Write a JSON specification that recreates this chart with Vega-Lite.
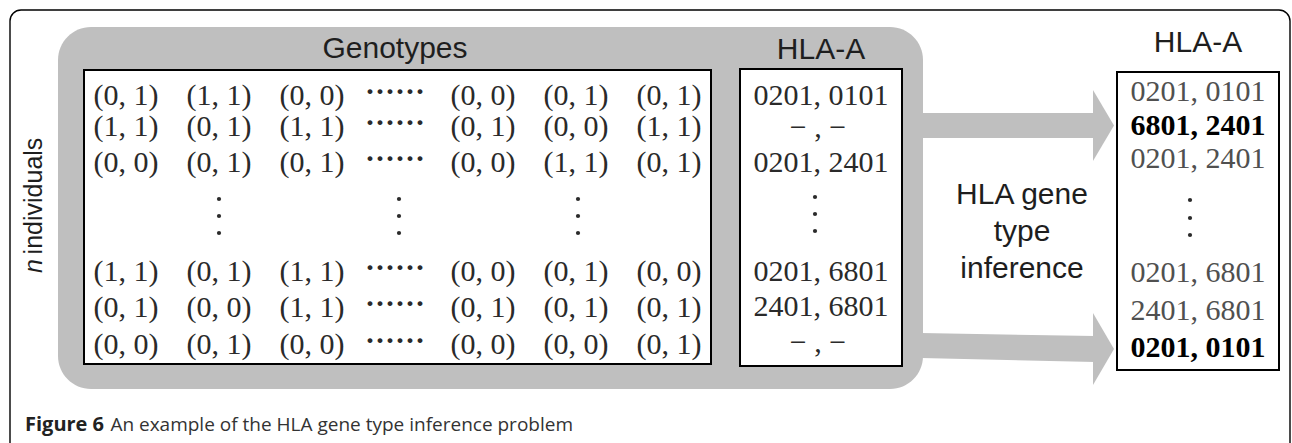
{
  "$schema": "https://vega.github.io/schema/vega-lite/v6.json",
  "width": 1292,
  "height": 443,
  "autosize": {"type": "none"},
  "padding": 0,
  "background": "white",
  "config": {"view": {"stroke": null}},
  "encoding": {
    "x": {"field": "x", "type": "quantitative", "scale": {"domain": [0, 1292], "nice": false, "zero": false}, "axis": null},
    "y": {"field": "y", "type": "quantitative", "scale": {"domain": [0, 443], "nice": false, "zero": false, "reverse": true}, "axis": null}
  },
  "layer": [
    {
      "data": {"values": [{"x": 10, "x2": 1290, "y": 10, "y2": 520}]},
      "mark": {"type": "rect", "filled": false, "stroke": "#000000", "strokeWidth": 1.4, "cornerRadius": 11, "clip": true},
      "encoding": {"x2": {"field": "x2"}, "y2": {"field": "y2"}}
    },
    {
      "data": {"values": [{"x": 58, "x2": 923, "y": 27, "y2": 389}]},
      "mark": {"type": "rect", "fill": "#bfbfbf", "cornerRadius": 33},
      "encoding": {"x2": {"field": "x2"}, "y2": {"field": "y2"}}
    },
    {
      "data": {"values": [
        {"part": "upper shaft", "x": 921, "y": 113, "y2": 138},
        {"part": "upper shaft", "x": 1095, "y": 113, "y2": 138},
        {"part": "upper head", "x": 1093, "y": 90, "y2": 161},
        {"part": "upper head", "x": 1114, "y": 125.5, "y2": 125.5},
        {"part": "lower shaft", "x": 921, "y": 333, "y2": 358},
        {"part": "lower shaft", "x": 1095, "y": 336, "y2": 362},
        {"part": "lower head", "x": 1093, "y": 313, "y2": 385},
        {"part": "lower head", "x": 1114, "y": 349, "y2": 349}
      ]},
      "mark": {"type": "area", "fill": "#bfbfbf", "interpolate": "linear"},
      "encoding": {"y": {"field": "y", "type": "quantitative", "stack": null}, "y2": {"field": "y2"}, "detail": {"field": "part"}}
    },
    {
      "data": {"values": [
        {"box": "Genotypes", "x": 84, "x2": 711, "y": 70, "y2": 364},
        {"box": "HLA-A input", "x": 740, "x2": 902, "y": 69, "y2": 366},
        {"box": "HLA-A output", "x": 1117, "x2": 1279, "y": 72, "y2": 370}
      ]},
      "mark": {"type": "rect", "fill": "white", "stroke": "#000000", "strokeWidth": 2},
      "encoding": {"x2": {"field": "x2"}, "y2": {"field": "y2"}}
    },
    {
      "data": {"values": [
        {"x": 126, "y": 96, "label": "(0, 1)"}, {"x": 219, "y": 96, "label": "(1, 1)"}, {"x": 312, "y": 96, "label": "(0, 0)"}, {"x": 483, "y": 96, "label": "(0, 0)"}, {"x": 576, "y": 96, "label": "(0, 1)"}, {"x": 669, "y": 96, "label": "(0, 1)"},
        {"x": 126, "y": 127, "label": "(1, 1)"}, {"x": 219, "y": 127, "label": "(0, 1)"}, {"x": 312, "y": 127, "label": "(1, 1)"}, {"x": 483, "y": 127, "label": "(0, 1)"}, {"x": 576, "y": 127, "label": "(0, 0)"}, {"x": 669, "y": 127, "label": "(1, 1)"},
        {"x": 126, "y": 163, "label": "(0, 0)"}, {"x": 219, "y": 163, "label": "(0, 1)"}, {"x": 312, "y": 163, "label": "(0, 1)"}, {"x": 483, "y": 163, "label": "(0, 0)"}, {"x": 576, "y": 163, "label": "(1, 1)"}, {"x": 669, "y": 163, "label": "(0, 1)"},
        {"x": 126, "y": 272, "label": "(1, 1)"}, {"x": 219, "y": 272, "label": "(0, 1)"}, {"x": 312, "y": 272, "label": "(1, 1)"}, {"x": 483, "y": 272, "label": "(0, 0)"}, {"x": 576, "y": 272, "label": "(0, 1)"}, {"x": 669, "y": 272, "label": "(0, 0)"},
        {"x": 126, "y": 308, "label": "(0, 1)"}, {"x": 219, "y": 308, "label": "(0, 0)"}, {"x": 312, "y": 308, "label": "(1, 1)"}, {"x": 483, "y": 308, "label": "(0, 1)"}, {"x": 576, "y": 308, "label": "(0, 1)"}, {"x": 669, "y": 308, "label": "(0, 1)"},
        {"x": 126, "y": 345, "label": "(0, 0)"}, {"x": 219, "y": 345, "label": "(0, 1)"}, {"x": 312, "y": 345, "label": "(0, 0)"}, {"x": 483, "y": 345, "label": "(0, 0)"}, {"x": 576, "y": 345, "label": "(0, 0)"}, {"x": 669, "y": 345, "label": "(0, 1)"}
      ]},
      "mark": {"type": "text", "font": "Liberation Serif", "fontSize": 30, "color": "#2a2a2a", "align": "center", "baseline": "middle"},
      "encoding": {"text": {"field": "label"}}
    },
    {
      "data": {"values": [
        {"x": 395, "y": 96, "label": "······"},
        {"x": 395, "y": 127, "label": "······"},
        {"x": 395, "y": 163, "label": "······"},
        {"x": 395, "y": 272, "label": "······"},
        {"x": 395, "y": 308, "label": "······"},
        {"x": 395, "y": 345, "label": "······"}
      ]},
      "mark": {"type": "text", "font": "Liberation Serif", "fontSize": 30, "fontWeight": "bold", "color": "#2a2a2a", "align": "center", "baseline": "middle", "dy": -4},
      "encoding": {"text": {"field": "label"}}
    },
    {
      "data": {"values": [
        {"x": 821, "y": 96, "label": "0201, 0101"},
        {"x": 818, "y": 128, "label": "−  ,  −"},
        {"x": 821, "y": 163, "label": "0201, 2401"},
        {"x": 821, "y": 272, "label": "0201, 6801"},
        {"x": 821, "y": 307, "label": "2401, 6801"},
        {"x": 818, "y": 343, "label": "−  ,  −"}
      ]},
      "mark": {"type": "text", "font": "Liberation Serif", "fontSize": 30, "color": "#2a2a2a", "align": "center", "baseline": "middle"},
      "encoding": {"text": {"field": "label"}}
    },
    {
      "data": {"values": [
        {"x": 1198, "y": 92, "label": "0201, 0101"},
        {"x": 1198, "y": 159, "label": "0201, 2401"},
        {"x": 1198, "y": 273, "label": "0201, 6801"},
        {"x": 1198, "y": 311, "label": "2401, 6801"}
      ]},
      "mark": {"type": "text", "font": "Liberation Serif", "fontSize": 30, "color": "#505050", "align": "center", "baseline": "middle"},
      "encoding": {"text": {"field": "label"}}
    },
    {
      "data": {"values": [
        {"x": 1198, "y": 126, "label": "6801, 2401"},
        {"x": 1198, "y": 348, "label": "0201, 0101"}
      ]},
      "mark": {"type": "text", "font": "Liberation Serif", "fontSize": 30, "fontWeight": "bold", "color": "#000000", "align": "center", "baseline": "middle"},
      "encoding": {"text": {"field": "label"}}
    },
    {
      "data": {"values": [
        {"x": 219, "y": 199}, {"x": 219, "y": 216}, {"x": 219, "y": 233},
        {"x": 399, "y": 199}, {"x": 399, "y": 216}, {"x": 399, "y": 233},
        {"x": 578, "y": 199}, {"x": 578, "y": 216}, {"x": 578, "y": 233},
        {"x": 815, "y": 197}, {"x": 815, "y": 214}, {"x": 815, "y": 231},
        {"x": 1190, "y": 200}, {"x": 1190, "y": 218}, {"x": 1190, "y": 235}
      ]},
      "mark": {"type": "point", "shape": "circle", "filled": true, "size": 18, "color": "#2a2a2a", "opacity": 1}
    },
    {
      "data": {"values": [
        {"x": 395, "y": 58, "label": "Genotypes"},
        {"x": 821, "y": 59, "label": "HLA-A"},
        {"x": 1198, "y": 52, "label": "HLA-A"},
        {"x": 1022, "y": 204, "label": "HLA gene"},
        {"x": 1022, "y": 241, "label": "type"},
        {"x": 1022, "y": 278, "label": "inference"}
      ]},
      "mark": {"type": "text", "font": "Liberation Sans", "fontSize": 30, "color": "#1e1e1e", "align": "center", "baseline": "alphabetic"},
      "encoding": {"text": {"field": "label"}}
    },
    {
      "data": {"values": [{"x": 42, "y": 266, "label": "n"}]},
      "mark": {"type": "text", "font": "Liberation Sans", "fontSize": 25, "fontStyle": "italic", "color": "#1e1e1e", "align": "center", "baseline": "alphabetic", "angle": 270},
      "encoding": {"text": {"field": "label"}}
    },
    {
      "data": {"values": [{"x": 42, "y": 196, "label": "individuals"}]},
      "mark": {"type": "text", "font": "Liberation Sans", "fontSize": 25, "color": "#1e1e1e", "align": "center", "baseline": "alphabetic", "angle": 270},
      "encoding": {"text": {"field": "label"}}
    },
    {
      "data": {"values": [{"x": 25, "y": 431, "label": "Figure 6"}]},
      "mark": {"type": "text", "font": "Open Sans", "fontSize": 20, "fontWeight": "bold", "color": "#222222", "align": "left", "baseline": "alphabetic"},
      "encoding": {"text": {"field": "label"}}
    },
    {
      "data": {"values": [{"x": 573, "y": 431, "label": "An example of the HLA gene type inference problem"}]},
      "mark": {"type": "text", "font": "Open Sans", "fontSize": 19, "color": "#333333", "align": "right", "baseline": "alphabetic"},
      "encoding": {"text": {"field": "label"}}
    }
  ]
}
